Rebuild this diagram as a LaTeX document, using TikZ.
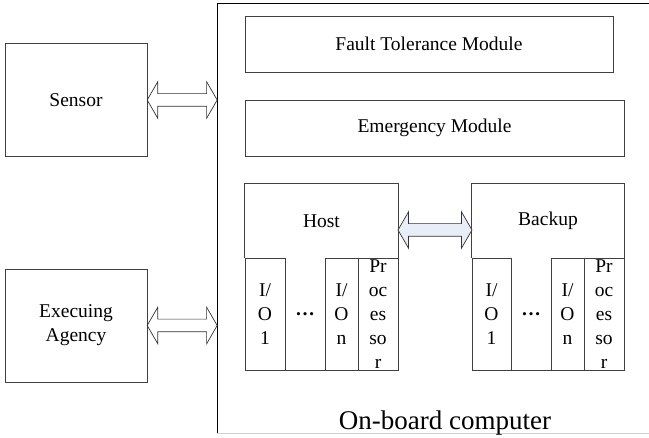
\documentclass[tikz,border=0pt]{standalone}
\usepackage{fontspec}
\setmainfont{Liberation Serif}
\usetikzlibrary{calc,shapes.arrows}
\definecolor{linkfill}{RGB}{232,238,248}

\begin{document}
\begin{tikzpicture}[x=1pt,y=-1pt,
  line/.style={draw=black!75,line width=0.8pt},
  box/.style={line,inner sep=0pt,align=center,font=\fontsize{19.5}{24}\selectfont},
  col/.style={box,minimum height=112pt},
  dots/.style={anchor=base,inner sep=0pt,font=\fontsize{19.5}{24}\selectfont\bfseries},
  fat/.style={draw=black!80,line width=0.7pt,double arrow,double arrow head extend=12pt,
    double arrow tip angle=120,inner xsep=0pt,inner ysep=6pt,minimum height=#1},
  fat/.default=70pt]
  \useasboundingbox (0,0) rectangle (649,438);
  \coordinate (obc) at (217,4);
  \draw [black,line width=1pt] (649,4) -- (obc) -- (217,434);
  \draw [black!18,line width=1pt] (217,434) -- (649,434);
  \node [box,minimum width=142pt,minimum height=113pt] (sensor) at (76,100) {Sensor};
  \node [box,minimum width=142pt,minimum height=113pt] (agency) at (76,325.5) {Execuing\\Agency};
  \node [fat] (sarrow) at ($(sensor.east)!0.5!(sensor.east -| obc)$) {};
  \node [fat] (aarrow) at ($(agency.east)!0.5!(agency.east -| obc)$) {};
  \node [box,minimum width=368pt,minimum height=56pt] (ftm) at (429,44) {Fault Tolerance Module};
  \node [box,minimum width=379pt,minimum height=56pt] (emm) at (434.5,128) {Emergency Module};
  \node [inner sep=0pt,minimum width=153pt,minimum height=74pt,font=\fontsize{19.5}{24}\selectfont] (host) at (321.5,221) {Host};
  \node [col,minimum width=40pt] (hio1) at (265,314) {I/\\O\\1};
  \node [col,minimum width=33pt] (hion) at (341.5,314) {I/\\O\\n};
  \node [col,minimum width=40pt] (hproc) at (378,314) {Pr\\oc\\es\\so\\r};
  \draw [line] (host.south west) -- (host.north west) -- (host.north east) -- (host.south east);
  \draw [line] (hio1.south east) -- (hion.south west);
  \node [dots] (hdots) at (305,315.5) {…};
  \node [inner sep=0pt,minimum width=152pt,minimum height=74pt,font=\fontsize{19.5}{24}\selectfont] (backup) at (548,221) {Backup};
  \node [col,minimum width=39pt] (bio1) at (491.5,314) {I/\\O\\1};
  \node [col,minimum width=33pt] (bion) at (567.5,314) {I/\\O\\n};
  \node [col,minimum width=40pt] (bproc) at (604,314) {Pr\\oc\\es\\so\\r};
  \draw [line] (backup.south west) -- (backup.north west) -- (backup.north east) -- (backup.south east);
  \draw [line] (bio1.south east) -- (bion.south west);
  \node [dots] (bdots) at (531,315.5) {…};
  \node [fat=74pt,fill=linkfill] (link) at ($(host.east)!0.5!(backup.west)+(0,9)$) {};
  \node [anchor=base,font=\fontsize{27}{32}\selectfont] (obclabel) at (445,430) {On-board computer};
\end{tikzpicture}
\end{document}
